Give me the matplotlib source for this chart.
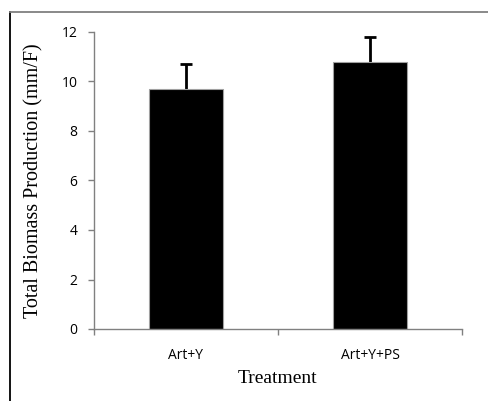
import matplotlib
matplotlib.use("Agg")
import matplotlib.pyplot as plt
from matplotlib.lines import Line2D

categories = ["Art+Y", "Art+Y+PS"]
values = [9.7, 10.8]
errors = [1.0, 1.0]
yticks = [0, 2, 4, 6, 8, 10, 12]

fig = plt.figure(figsize=(4.88, 4.01), dpi=100)
ax = fig.add_axes([94/488, 1-329/401, (462-94)/488, (329-32)/401])

x = [0.5, 1.5]
ax.bar(x, values, width=0.4, color="black", edgecolor="#a0a0a0", linewidth=0.8, zorder=2)
eb = ax.errorbar(x, values, yerr=[[0, 0], errors], fmt="none", ecolor="black",
                 elinewidth=2, capsize=4, capthick=2, zorder=1)
caps = eb[1]
if len(caps) >= 2:
    caps[0].set_visible(False)

ax.set_xlim(0, 2)
ax.set_ylim(0, 12)
ax.set_yticks(yticks)
ax.set_xticks([0, 1, 2], minor=False)
ax.set_xticklabels([])
ax.set_xticks(x, minor=True)
ax.set_xticklabels(categories, minor=True, fontsize=10, family="Open Sans")
ax.tick_params(axis="x", which="minor", length=0, pad=14)
ax.tick_params(axis="x", which="major", length=4, direction="out", color="#808080", width=1)
ax.tick_params(axis="y", length=4, direction="out", color="#808080", width=1,
               labelsize=10, pad=8)
for lab in ax.get_yticklabels():
    lab.set_family("Open Sans")

for s in ["top", "right"]:
    ax.spines[s].set_visible(False)
for s in ["left", "bottom"]:
    ax.spines[s].set_color("#808080")
    ax.spines[s].set_linewidth(1)

ax.set_ylabel("Total Biomass Production (mm/F)", family="Liberation Serif", fontsize=14.5, labelpad=13)
ax.set_xlabel("Treatment", family="Liberation Serif", fontsize=14, labelpad=5)

# outer frame (left and top edges visible)
fig.add_artist(Line2D([9.5/488, 9.5/488], [0, 1-12/401], transform=fig.transFigure, color="black", lw=1.3))
fig.add_artist(Line2D([9.5/488, 1], [1-12/401, 1-12/401], transform=fig.transFigure, color="#808080", lw=1.3))

fig.savefig("out.png", dpi=100)
